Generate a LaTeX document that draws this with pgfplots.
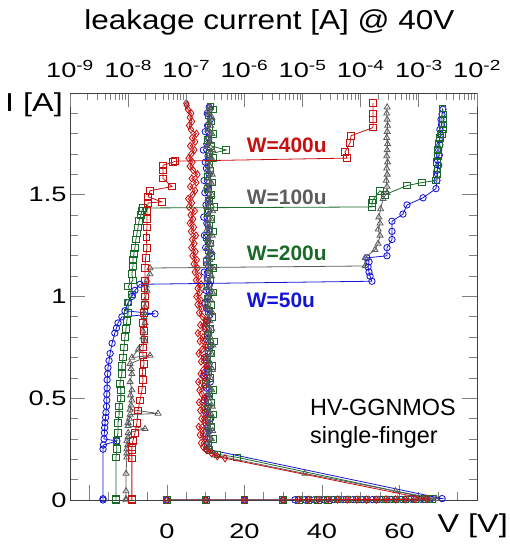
\documentclass[border=0pt]{standalone}
\usepackage{pgfplots}
\pgfplotsset{compat=1.18}
\usepackage{fontspec}
\setmainfont{Liberation Sans}
\newfontfamily\tickfont[FakeStretch=1.3]{Liberation Sans}
\newfontfamily\labfont[FakeStretch=1.25]{Liberation Sans}
\newfontfamily\titfont[FakeStretch=1.15]{Liberation Sans}

\definecolor{cblue}{RGB}{20,20,215}
\definecolor{cgreen}{RGB}{25,105,40}
\definecolor{cgray}{RGB}{92,92,92}
\definecolor{cred}{RGB}{200,15,15}

\pgfplotsset{
  ser/.style={color=#1, line width=0.8pt,
    mark options={solid, line width=0.85pt, fill=none}},
  tickf/.style={font=\tickfont\fontsize{21}{24}\selectfont},
}

\begin{document}
\begin{tikzpicture}
\useasboundingbox (-70bp,-44bp) rectangle (440bp,500bp);

% ---------------- TLP I-V curves (bottom voltage axis) ----------------
\begin{axis}[
  at={(0,0)}, anchor=south west, scale only axis,
  width=407bp, height=407bp,
  xmin=-25, xmax=80, ymin=0, ymax=2,
  xtick={-20,0,20,40,60,80}, xticklabels={,0,20,40,60,},
  minor x tick num=3,
  ytick={0,0.5,1,1.5,2}, yticklabels={0,0.5,1,1.5,},
  minor y tick num=4,
  xtick pos=left, ytick pos=both,
  tick align=inside,
  major tick length=15bp, minor tick length=8bp,
  axis line style={black!75, line width=0.8pt},
  tick style={gray, line width=0.8pt},
  xticklabel style={tickf, anchor=base, yshift=-38bp},
  yticklabel style={tickf},
  clip mode=individual,
]
% W=50u
\addplot[ser=cblue, mark=o, mark size=3.2pt] coordinates {
(0,0)(10,0)(20,0)(30,0)(33,0.001)(35.5,0.001)(38,0.001)(40.5,0.001)(43,0.002)
(45.5,0.002)(48,0.002)(50.5,0.002)(53,0.002)(55.5,0.003)(58,0.003)(60.5,0.003)
(63,0.004)(65.5,0.004)(68,0.005)(71,0.007)
(10.3,0.25)(10.8,0.28)(9.8,0.31)(10.9,0.34)(10.2,0.37)(11.3,0.40)(10.0,0.43)
(10.6,0.46)(9.6,0.49)(10.9,0.52)(10.1,0.55)(11.2,0.58)(9.5,0.61)(10.4,0.64)
(10.9,0.67)(9.7,0.70)(10.6,0.73)(11.4,0.76)(10.2,0.79)(10.8,0.82)(9.9,0.85)
(10.5,0.88)(11.1,0.91)(10.3,0.94)(9.8,0.97)(10.7,1.00)(10.1,1.03)(11.0,1.06)
(10.4,1.09)(9.6,1.12)(10.8,1.15)(10.2,1.18)(11.2,1.21)(10.0,1.24)(10.6,1.27)
(9.7,1.30)(10.9,1.33)(10.3,1.36)(9.5,1.39)(10.7,1.42)(10.1,1.45)(11.0,1.48)
(9.8,1.51)(10.5,1.54)(9.6,1.57)(10.9,1.60)(10.2,1.63)(9.9,1.66)(10.6,1.69)
(9.4,1.72)(10.3,1.75)(10.8,1.78)(9.9,1.81)(10.5,1.84)(11.2,1.87)(10.4,1.90)
(10.9,1.93)
};
% W=200u
\addplot[ser=cgreen, mark=square, mark size=3.3pt] coordinates {
(0,0)(10,0)(20,0)(30,0)(34,0.001)(36.5,0.001)(39,0.001)(41.5,0.001)(44,0.002)
(46.5,0.002)(49,0.002)(51.5,0.002)(54,0.002)(56.5,0.003)(59,0.003)(61.5,0.003)
(64,0.004)(66.5,0.004)(68.5,0.005)
(18,0.21)(13,0.225)(11,0.245)
(10.6,0.27)(11.8,0.30)(10.2,0.33)(11.3,0.36)(10.8,0.39)(12.0,0.42)(10.4,0.45)
(11.5,0.48)(10.9,0.51)(11.9,0.54)(10.1,0.57)(11.2,0.60)(10.7,0.63)(11.6,0.66)
(10.3,0.69)(11.4,0.72)(10.9,0.75)(12.1,0.78)(10.5,0.81)(11.1,0.84)(10.2,0.87)
(11.7,0.90)(10.8,0.93)(11.3,0.96)(10.4,0.99)(11.9,1.02)(10.6,1.05)(11.2,1.08)
(10.9,1.11)(12.0,1.14)(10.3,1.17)(11.5,1.20)(10.7,1.23)(11.1,1.26)(10.2,1.29)
(11.8,1.32)(10.8,1.35)(11.4,1.38)(10.5,1.41)(12.2,1.44)(10.9,1.47)(11.3,1.50)
(10.6,1.53)(11.7,1.56)(10.4,1.59)(11.2,1.62)(10.8,1.65)(11.9,1.68)(11.0,1.70)
(15.3,1.72)(11.4,1.74)(10.6,1.77)(11.8,1.80)(10.9,1.83)(11.5,1.86)(10.7,1.89)
(11.9,1.92)(11.2,1.935)
};
% W=100u
\addplot[ser=cgray, mark=triangle, mark size=3.4pt] coordinates {
(0,0)(10,0)(20,0)(30,0)(34.5,0.001)(37,0.001)(39.5,0.001)(42,0.001)(44.5,0.002)
(47,0.002)(49.5,0.002)(52,0.002)(54.5,0.002)(57,0.003)(59.5,0.003)(62,0.003)
(64.5,0.004)(67,0.004)(69.5,0.006)
(59,0.044)(35.6,0.13)(12.5,0.22)(10.8,0.245)
(11.0,0.26)(10.3,0.28)(11.5,0.30)(10.6,0.32)(11.8,0.34)(10.4,0.36)(11.2,0.38)
(10.0,0.40)(11.4,0.42)(10.7,0.44)(11.7,0.46)(10.2,0.48)(11.1,0.50)(10.5,0.52)
(11.6,0.54)(10.8,0.56)(10.1,0.58)(11.3,0.60)(10.6,0.62)(11.8,0.64)(10.4,0.66)
(11.0,0.68)(10.2,0.70)(11.5,0.72)(10.7,0.74)(11.9,0.76)(10.3,0.78)(11.2,0.80)
(10.6,0.82)(11.6,0.84)(10.0,0.86)(11.1,0.88)(10.5,0.90)(11.7,0.92)(10.8,0.94)
(10.2,0.96)(11.4,0.98)(10.6,1.00)(11.8,1.02)(10.4,1.04)(11.0,1.06)(10.3,1.08)
(11.5,1.10)(10.7,1.12)(11.9,1.14)(10.2,1.16)(11.1,1.18)(10.6,1.20)(11.6,1.22)
(10.4,1.24)(11.3,1.26)(10.8,1.28)(11.7,1.30)(10.1,1.32)(11.0,1.34)(10.5,1.36)
(11.5,1.38)(10.7,1.40)(11.8,1.42)(10.3,1.44)(11.2,1.46)(10.6,1.48)(11.6,1.50)
(10.9,1.52)(10.2,1.54)(11.4,1.56)(10.7,1.58)(11.7,1.60)(10.4,1.62)(11.1,1.64)
(10.6,1.66)(11.5,1.68)(10.9,1.70)(11.8,1.72)(10.3,1.74)(11.2,1.76)(10.8,1.78)
(11.6,1.80)(10.5,1.82)(11.3,1.84)(10.9,1.86)(11.6,1.88)(10.7,1.90)(11.0,1.92)
(10.9,1.93)
};
% W=400u
\addplot[ser=cred, mark=diamond, mark size=3.6pt] coordinates {
(0,0)(10,0)(20,0)(30,0)(34,0.001)(36.5,0.001)(39,0.001)(41.5,0.001)(44,0.002)
(46.5,0.002)(49,0.002)(51.5,0.002)(54,0.002)(56.5,0.003)(59,0.003)(61.5,0.003)
(64,0.004)(67,0.005)
(15,0.205)(13,0.215)(11.5,0.23)(10.2,0.245)
(9.4,0.26)(8.8,0.28)(9.9,0.30)(8.5,0.32)(9.3,0.34)(8.2,0.36)(9.7,0.38)(8.9,0.40)
(10.1,0.42)(8.6,0.44)(9.5,0.46)(8.3,0.48)(9.8,0.50)(9.0,0.52)(8.4,0.54)(9.6,0.56)
(8.1,0.58)(9.9,0.60)(8.7,0.62)(9.4,0.64)(10.3,0.66)(8.8,0.68)(9.6,0.70)(8.2,0.72)
(9.1,0.74)(9.9,0.76)(8.5,0.78)(9.3,0.80)(8.0,0.82)(9.7,0.84)(8.6,0.86)(10.4,0.88)
(9.2,0.90)(8.3,0.92)(9.0,0.94)(7.9,0.96)(8.8,0.98)(7.6,1.00)(8.5,1.02)(7.9,1.04)
(8.8,1.06)(7.5,1.08)(8.3,1.10)(7.2,1.12)(7.9,1.14)(6.9,1.16)(7.7,1.18)(6.6,1.20)
(7.4,1.22)(6.3,1.24)(7.1,1.26)(6.5,1.28)(7.5,1.30)(6.2,1.32)(7.0,1.34)(5.9,1.36)
(6.8,1.38)(6.1,1.40)(7.2,1.42)(5.7,1.44)(6.5,1.46)(5.5,1.48)(6.6,1.50)(7.3,1.52)
(6.0,1.54)(7.6,1.56)(6.4,1.58)(7.9,1.60)(6.8,1.62)(5.9,1.64)(6.6,1.66)(5.6,1.68)
(6.3,1.70)(7.1,1.72)(6.0,1.74)(7.3,1.76)(6.5,1.78)(7.6,1.80)(6.2,1.82)(5.7,1.84)
(6.5,1.86)(5.9,1.88)(6.3,1.90)(5.4,1.92)(5.1,1.94)(5.0,1.95)
};

\node[font=\bfseries\fontsize{21}{24}\selectfont, text=cred, anchor=west, inner sep=0]
  at (axis cs:20.6,1.745) {W=400u};
\node[font=\bfseries\fontsize{21}{24}\selectfont, text=cgray, anchor=west, inner sep=0]
  at (axis cs:20.6,1.489) {W=100u};
\node[font=\bfseries\fontsize{21}{24}\selectfont, text=cgreen, anchor=west, inner sep=0]
  at (axis cs:20.6,1.214) {W=200u};
\node[font=\bfseries\fontsize{21}{24}\selectfont, text=cblue, anchor=west, inner sep=0]
  at (axis cs:20.6,0.983) {W=50u};
\node[font=\fontsize{23.5}{27}\selectfont, anchor=base west, inner sep=0]
  at (axis cs:36.9,0.413) {HV-GGNMOS};
\node[font=\fontsize{23.5}{27}\selectfont, anchor=base west, inner sep=0]
  at (axis cs:36.9,0.28) {single-finger};

\node[font=\labfont\fontsize{26}{30}\selectfont, anchor=base east, inner sep=0,
  xshift=-7bp, yshift=-19bp] at (rel axis cs:0,1) {I [A]};
\node[font=\labfont\fontsize{26}{30}\selectfont, anchor=base east, inner sep=0,
  xshift=31bp, yshift=-32bp] at (rel axis cs:1,0) {V [V]};
\node[font=\titfont\fontsize{27.5}{31}\selectfont, anchor=base, inner sep=0,
  yshift=63bp] at (rel axis cs:0.49,1) {leakage current [A] @ 40V};
\end{axis}

% ---------------- leakage after each pulse (top log axis) ----------------
\begin{axis}[
  at={(0,0)}, anchor=south west, scale only axis,
  width=407bp, height=407bp,
  xmode=log, xmin=1e-9, xmax=1e-2, ymin=0, ymax=2,
  axis x line*=top, axis y line=none,
  x axis line style={-, black!75, line width=0.8pt},
  xtick={1e-9,1e-8,1e-7,1e-6,1e-5,1e-4,1e-3,1e-2},
  xticklabels={10\textsuperscript{-9},10\textsuperscript{-8},10\textsuperscript{-7},
    10\textsuperscript{-6},10\textsuperscript{-5},10\textsuperscript{-4},
    10\textsuperscript{-3},10\textsuperscript{-2}},
  minor xtick={2e-9,3e-9,4e-9,5e-9,6e-9,7e-9,8e-9,9e-9,
    2e-8,3e-8,4e-8,5e-8,6e-8,7e-8,8e-8,9e-8,
    2e-7,3e-7,4e-7,5e-7,6e-7,7e-7,8e-7,9e-7,
    2e-6,3e-6,4e-6,5e-6,6e-6,7e-6,8e-6,9e-6,
    2e-5,3e-5,4e-5,5e-5,6e-5,7e-5,8e-5,9e-5,
    2e-4,3e-4,4e-4,5e-4,6e-4,7e-4,8e-4,9e-4,
    2e-3,3e-3,4e-3,5e-3,6e-3,7e-3,8e-3,9e-3},
  tick align=inside,
  major tick length=14bp, minor tick length=7bp,
  tick style={gray, line width=0.8pt},
  xticklabel style={tickf, anchor=base, yshift=15bp},
]
% W=50u
\addplot[ser=cblue, mark=o, mark size=3.2pt] coordinates {
(3.7e-9,0)(3.7e-9,0.006)(3.7e-9,0.25)(3.75e-9,0.27)(6.4e-9,0.29)(3.85e-9,0.30)
(3.9e-9,0.33)(3.95e-9,0.355)(4.0e-9,0.38)(4.1e-9,0.405)(4.16e-9,0.43)
(4.25e-9,0.46)(4.3e-9,0.49)(4.3e-9,0.52)(4.35e-9,0.55)(4.35e-9,0.59)
(4.45e-9,0.62)(4.5e-9,0.65)(4.7e-9,0.685)(4.9e-9,0.72)(5.3e-9,0.77)
(5.9e-9,0.82)(6.3e-9,0.845)(6.7e-9,0.87)(7.8e-9,0.90)(2.9e-8,0.915)(8.8e-9,0.93)
(1.0e-8,0.97)(1.16e-8,1.00)(1.31e-8,1.03)(1.6e-8,1.06)
(1.56e-4,1.075)(1.45e-4,1.10)(1.39e-4,1.12)(1.34e-4,1.145)(1.39e-4,1.17)
(1.28e-4,1.19)(2.83e-4,1.20)(2.83e-4,1.24)(3.45e-4,1.28)(3.45e-4,1.32)
(3.45e-4,1.37)(5.33e-4,1.405)(6.25e-4,1.45)(1.18e-3,1.485)(1.97e-3,1.53)
(2.05e-3,1.57)(2.1e-3,1.60)(2.05e-3,1.62)(2.2e-3,1.645)(2.1e-3,1.67)
(2.25e-3,1.695)(2.2e-3,1.72)(2.3e-3,1.745)(2.25e-3,1.77)(2.35e-3,1.795)
(2.3e-3,1.82)(2.45e-3,1.845)(2.4e-3,1.87)(2.5e-3,1.895)(2.6e-3,1.92)
};
% W=200u
\addplot[ser=cgreen, mark=square, mark size=3.3pt] coordinates {
(6.2e-9,0)(6.2e-9,0.005)(6.2e-9,0.21)(6.4e-9,0.25)(6.3e-9,0.29)(6.7e-9,0.33)
(6.7e-9,0.38)(7.0e-9,0.42)(7.0e-9,0.46)(7.5e-9,0.50)(7.5e-9,0.54)(7.2e-9,0.57)
(7.8e-9,0.62)(7.8e-9,0.66)(8.2e-9,0.70)(8.5e-9,0.75)(8.8e-9,0.80)(9.2e-9,0.84)
(9.5e-9,0.88)(1.0e-8,0.92)(1.0e-8,0.97)(1.16e-8,1.01)(1.0e-8,1.05)
(1.21e-8,1.08)(1.16e-8,1.11)(1.21e-8,1.15)(1.21e-8,1.18)(1.26e-8,1.21)
(1.31e-8,1.24)(1.36e-8,1.28)(1.42e-8,1.31)(1.48e-8,1.34)(1.54e-8,1.37)
(1.65e-8,1.40)(1.73e-8,1.42)(1.8e-8,1.435)
(1.56e-4,1.44)(1.56e-4,1.46)(1.63e-4,1.475)(2.15e-4,1.52)(2.6e-4,1.50)
(6.25e-4,1.545)(1.13e-3,1.56)(1.97e-3,1.57)(2.05e-3,1.60)(2.1e-3,1.63)
(2.05e-3,1.66)(2.15e-3,1.69)(2.1e-3,1.72)(2.2e-3,1.75)(2.3e-3,1.78)
(2.5e-3,1.80)(2.6e-3,1.82)(2.6e-3,1.845)(2.6e-3,1.87)(2.6e-3,1.895)
(2.55e-3,1.925)
};
% W=100u
\addplot[ser=cgray, mark=triangle, mark size=3.4pt] coordinates {
(9.2e-9,0)(9.2e-9,0.006)(9.2e-9,0.044)(9.2e-9,0.13)(9.5e-9,0.21)(9.5e-9,0.23)
(9.5e-9,0.25)(9.8e-9,0.27)(9.5e-9,0.29)(1.0e-8,0.31)(1.0e-8,0.33)(1.95e-8,0.35)
(1.0e-8,0.365)(1.0e-8,0.38)(1.05e-8,0.40)(1.08e-8,0.42)(3.27e-8,0.425)
(1.08e-8,0.445)(1.12e-8,0.465)(1.16e-8,0.49)(1.1e-8,0.515)(1.16e-8,0.54)
(1.08e-8,0.58)(1.16e-8,0.62)(1.12e-8,0.645)(1.08e-8,0.67)(2.38e-8,0.71)
(1.16e-8,0.70)(1.5e-8,0.74)(1.95e-8,0.78)(1.8e-8,0.80)(1.8e-8,0.83)
(1.95e-8,0.87)(1.88e-8,0.90)(1.88e-8,0.92)(1.95e-8,0.95)(1.95e-8,0.98)
(2.11e-8,1.03)(2.05e-8,1.055)(2.11e-8,1.08)(2.38e-8,1.11)(2.38e-8,1.14)
(1.19e-4,1.15)(1.19e-4,1.19)(1.76e-4,1.23)(1.99e-4,1.26)(2.15e-4,1.30)
(2.0e-4,1.33)(2.15e-4,1.36)(2.05e-4,1.39)(2.2e-4,1.43)(2.42e-4,1.48)
(2.83e-4,1.51)(2.83e-4,1.54)(2.75e-4,1.57)(2.85e-4,1.60)(2.8e-4,1.63)
(2.9e-4,1.66)(2.8e-4,1.69)(2.85e-4,1.72)(2.9e-4,1.75)(2.8e-4,1.78)
(2.85e-4,1.81)(2.9e-4,1.84)(2.85e-4,1.87)(2.8e-4,1.90)(2.85e-4,1.93)
};
% W=400u
\addplot[ser=cred, mark=square, mark size=3.3pt] coordinates {
(1.16e-8,0)(1.16e-8,0.005)(1.16e-8,0.205)(1.16e-8,0.245)(1.16e-8,0.26)
(1.21e-8,0.29)(1.31e-8,0.33)(1.42e-8,0.38)(1.48e-8,0.44)(1.6e-8,0.49)
(1.73e-8,0.54)(1.8e-8,0.59)(1.75e-8,0.63)(1.88e-8,0.67)(1.8e-8,0.71)
(1.8e-8,0.75)(1.9e-8,0.79)(1.88e-8,0.83)(1.8e-8,0.87)(1.85e-8,0.92)
(1.95e-8,0.96)(1.95e-8,1.00)(1.9e-8,1.04)(1.95e-8,1.08)(1.95e-8,1.14)
(2.0e-8,1.19)(2.11e-8,1.24)(2.05e-8,1.29)(2.11e-8,1.34)(2.11e-8,1.38)
(2.11e-8,1.42)(2.2e-8,1.46)(3.8e-8,1.465)(2.2e-8,1.49)(2.38e-8,1.52)
(5.67e-8,1.54)(3.98e-8,1.58)(3.98e-8,1.62)(3.98e-8,1.645)(5.9e-8,1.66)
(6.4e-8,1.665)
(5.81e-5,1.68)(5.37e-5,1.71)(6.55e-5,1.755)(6.81e-5,1.79)(1.63e-4,1.83)
(1.63e-4,1.87)(1.63e-4,1.90)(1.63e-4,1.95)
};
\end{axis}
\end{tikzpicture}
\end{document}
